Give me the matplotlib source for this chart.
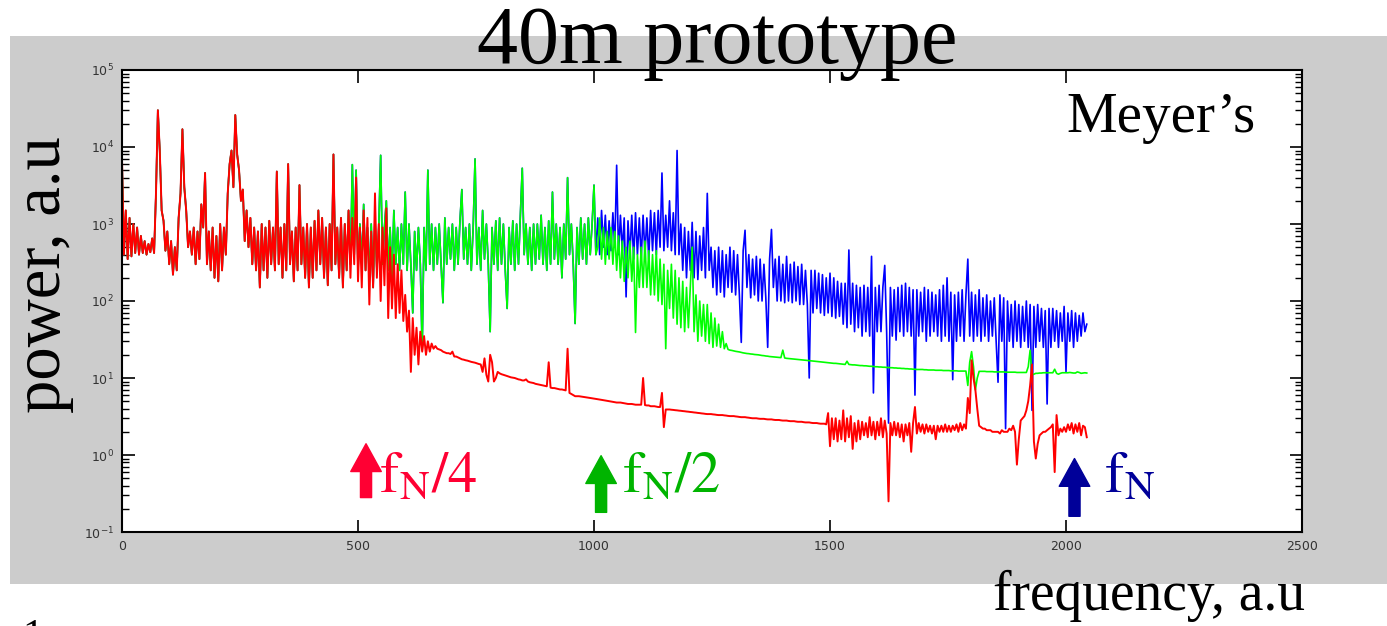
import matplotlib
matplotlib.use("Agg")
import matplotlib.pyplot as plt
import numpy as np
from matplotlib.patches import Rectangle

# frequency grid step (a.u.)
step = 4

# f = 0 .. 476, identical for all three spectra
shared_low = [
    7000, 400, 1500, 350, 1200, 380, 1000, 420, 900, 400,        # 0
    700, 420, 600, 400, 550, 430, 650, 420, 2500, 30000,         # 40
    9000, 1500, 1100, 450, 800, 300, 600, 220, 500, 250,         # 80
    1200, 2500, 17000, 3000, 1500, 500, 800, 400, 900, 300,      # 120
    800, 350, 1800, 900, 4600, 300, 800, 250, 900, 200,          # 160
    700, 180, 1000, 250, 900, 400, 2500, 6000, 9000, 3000,       # 200
    26000, 8000, 5000, 2000, 2800, 600, 1500, 500, 1200, 300,    # 240
    900, 250, 800, 150, 1000, 250, 900, 200, 1100, 300,          # 280
    900, 250, 4800, 300, 900, 200, 1000, 250, 6000, 300,         # 320
    800, 180, 900, 250, 3200, 300, 900, 200, 1000, 150,          # 360
    900, 200, 1100, 250, 1500, 300, 1200, 200, 900, 160,         # 400
    1000, 250, 8000, 300, 900, 200, 1200, 150, 1000, 250,        # 440
]

# red (fN/4), f = 480 .. 2044
red_hi = [
    1500, 200, 1200, 300, 4000, 180, 900, 150, 1500, 250,        # 480
    1200, 90, 800, 150, 2500, 200, 1000, 100, 900, 160,          # 520
    1600, 60, 500, 80, 400, 60, 300, 70, 250, 55,                # 560
    120, 40, 75, 12, 60, 20, 45, 15, 40, 22,                     # 600
    35, 20, 30, 22, 28, 24, 26, 24, 23.5, 23,                    # 640
    22, 21.5, 21, 21, 20.5, 22, 19, 19, 18.5, 18,                # 680
    17.5, 17.3, 17, 16.8, 16.5, 16.2, 16, 15.8, 15.5, 15.2,      # 720
    15, 12, 18, 11, 9, 20, 16, 9, 10, 12,                        # 760
    11.5, 11.2, 11, 10.8, 10.6, 10.4, 10.2, 10.1, 10, 9.8,       # 800
    9.6, 9.5, 9.3, 9.3, 9.6, 9.0, 8.8, 8.7, 8.6, 8.4,            # 840
    8.3, 8.2, 8.1, 8.0, 7.9, 7.8, 16, 7.5, 7.4, 7.4,             # 880
    7.3, 7.2, 7.1, 7.1, 7.0, 6.9, 24, 6.4, 6.2, 6.0,             # 920
    5.8, 5.8, 5.8, 5.75, 5.7, 5.65, 5.6, 5.55, 5.5, 5.45,        # 960
    5.4, 5.35, 5.3, 5.25, 5.2, 5.15, 5.1, 5.05, 5.0, 4.95,       # 1000
    4.9, 4.85, 4.8, 4.8, 4.8, 4.75, 4.7, 4.65, 4.6, 4.6,         # 1040
    4.6, 4.55, 4.5, 4.5, 4.5, 4.5, 10, 4.45, 4.4, 4.4,           # 1080
    4.3, 4.3, 4.3, 4.25, 4.2, 4.2, 6.4, 2.3, 3.9, 3.9,           # 1120
    3.9, 3.87, 3.85, 3.82, 3.8, 3.77, 3.75, 3.72, 3.7, 3.67,     # 1160
    3.65, 3.62, 3.6, 3.57, 3.55, 3.52, 3.5, 3.47, 3.45, 3.42,    # 1200
    3.4, 3.4, 3.4, 3.37, 3.35, 3.32, 3.3, 3.3, 3.3, 3.27,        # 1240
    3.25, 3.22, 3.2, 3.2, 3.2, 3.17, 3.15, 3.12, 3.1, 3.1,       # 1280
    3.1, 3.07, 3.05, 3.02, 3.0, 3.0, 3.0, 2.97, 2.95, 2.95,      # 1320
    2.95, 2.92, 2.9, 2.9, 2.9, 2.87, 2.85, 2.85, 2.85, 2.82,     # 1360
    2.8, 2.8, 2.8, 2.77, 2.75, 2.75, 2.75, 2.72, 2.7, 2.7,       # 1400
    2.7, 2.67, 2.65, 2.65, 2.65, 2.62, 2.6, 2.6, 2.6, 2.57,      # 1440
    2.55, 2.55, 2.55, 2.5, 3.5, 1.3, 3.0, 1.6, 3.0, 1.5,         # 1480
    2.8, 1.6, 3.8, 1.5, 3.0, 1.7, 3.2, 1.2, 2.6, 1.5,            # 1520
    2.8, 1.6, 2.7, 1.8, 2.6, 1.7, 3.1, 1.8, 2.7, 1.6,            # 1560
    2.7, 1.8, 3.0, 1.7, 2.8, 1.9, 0.25, 2.6, 1.8, 2.7,           # 1600
    1.8, 2.6, 1.7, 2.5, 1.5, 2.5, 1.8, 2.6, 1.1, 2.6,            # 1640
    4.2, 1.9, 2.6, 2.0, 2.5, 1.9, 2.5, 2.0, 2.4, 1.9,            # 1680
    2.4, 1.6, 2.4, 2.0, 2.4, 2.0, 2.5, 2.0, 2.4, 2.0,            # 1720
    2.4, 2.1, 2.5, 2.0, 2.6, 2.1, 2.5, 2.2, 5.5, 3.5,            # 1760
    17, 10, 7, 4, 2.4, 2.3, 2.2, 2.2, 2.1, 2.1,                  # 1800
    2.1, 2.0, 2.0, 2.0, 2.0, 1.9, 2.1, 2.0, 2.0, 2.0,            # 1840
    2.2, 2.1, 2.4, 2.0, 0.75, 1.6, 2.8, 3.0, 3.2, 3.8,           # 1880
    5, 8, 15, 1.5, 0.9, 1.4, 1.8, 1.9, 2.0, 2.0,                 # 1920
    2.1, 2.2, 2.3, 2.5, 0.6, 3.3, 1.8, 2.2, 2.0, 2.3,            # 1960
    2.0, 2.5, 2.1, 2.6, 1.9, 2.5, 2.0, 2.6, 1.8, 2.4,            # 2000
    2.3, 1.7,                                                    # 2040
]

# green (fN/2), f = 480 .. 1004 (blue follows the same values there)
green_mid = [
    1500, 300, 5900, 400, 5000, 250, 1000, 300, 1800, 250,       # 480
    900, 200, 1000, 150, 1200, 250, 900, 7800, 300, 900,         # 520
    2000, 250, 900, 200, 1500, 300, 900, 250, 1000, 300,         # 560
    2600, 250, 1000, 300, 70, 800, 250, 900, 300, 23,            # 600
    900, 250, 5000, 300, 1000, 250, 900, 300, 1000, 300,         # 640
    95, 1200, 300, 900, 350, 1000, 250, 900, 300, 1100,          # 680
    2800, 350, 900, 300, 1000, 250, 900, 7000, 300, 900,         # 720
    250, 1500, 350, 1000, 300, 40, 900, 300, 1100, 250,          # 760
    1200, 300, 1000, 250, 80, 900, 300, 1100, 250, 1000,         # 800
    300, 1300, 5300, 400, 1000, 300, 900, 250, 1000, 300,        # 840
    1000, 350, 1300, 300, 900, 250, 1100, 300, 2600, 350,        # 880
    1000, 300, 900, 200, 1000, 350, 4000, 400, 1000, 300,        # 920
    51, 900, 300, 1200, 350, 1000, 300, 1200, 400, 1000,         # 960
    3200, 400,                                                   # 1000
]

# green, f = 1008 .. 2044
green_hi = [
    500, 1200, 350, 900, 300, 800, 350, 900, 300, 800,           # 1008
    250, 700, 200, 600, 180, 500, 200, 600, 180, 500,            # 1048
    39, 400, 150, 500, 150, 600, 150, 450, 120, 400,             # 1088
    120, 450, 100, 350, 90, 300, 24, 250, 80, 300,               # 1128
    60, 250, 50, 200, 45, 180, 40, 150, 45, 150,                 # 1168
    500, 40, 120, 30, 100, 35, 90, 30, 90, 28,                   # 1208
    70, 25, 60, 26, 50, 25, 40, 24, 28, 23.5,                    # 1248
    23, 22.8, 22.5, 22.2, 22, 21.8, 21.5, 21.2, 21, 20.8,        # 1288
    20.7, 20.5, 20.4, 20.2, 20.1, 20, 19.8, 19.6, 19.5, 19.3,    # 1328
    19.2, 19, 18.9, 18.8, 18.7, 18.6, 18.5, 18.4, 23, 18.2,      # 1368
    18.0, 17.9, 17.8, 17.7, 17.6, 17.5, 17.4, 17.3, 17.2, 17.1,  # 1408
    17.0, 16.9, 16.8, 16.7, 16.6, 16.5, 16.4, 16.3, 16.2, 16.1,  # 1448
    16.0, 15.9, 15.8, 15.7, 15.6, 15.5, 15.5, 15.4, 15.3, 15.2,  # 1488
    15.1, 15, 16.5, 15, 14.9, 14.8, 14.8, 14.7, 14.6, 14.5,      # 1528
    14.5, 14.4, 14.4, 14.3, 14.2, 14.2, 14.1, 14.0, 14.0, 13.9,  # 1568
    13.9, 13.8, 13.8, 13.7, 13.7, 13.6, 13.6, 13.5, 13.5, 13.4,  # 1608
    13.4, 13.3, 13.3, 13.2, 13.2, 13.1, 13.1, 13.0, 13.0, 12.9,  # 1648
    12.9, 12.9, 12.9, 12.8, 12.8, 12.7, 12.7, 12.7, 12.7, 12.6,  # 1688
    12.6, 12.6, 12.6, 12.5, 12.5, 12.5, 12.5, 12.4, 12.4, 12.4,  # 1728
    12.4, 12.3, 12.3, 12.3, 12.3, 12.3, 8, 16, 22, 14,           # 1768
    7, 10, 12.2, 12.2, 12.2, 12.2, 12.1, 12.1, 12.1, 12.1,       # 1808
    12.0, 12.0, 12.0, 12.0, 12.0, 12.0, 11.9, 11.9, 11.9, 11.9,  # 1848
    11.9, 11.9, 11.8, 11.8, 11.8, 11.8, 11.8, 11.8, 14, 23,      # 1888
    11.0, 11.2, 11.5, 11.5, 11.6, 11.6, 11.7, 11.7, 11.7, 11.7,  # 1928
    11.7, 11.7, 13, 11.5, 11.2, 11.5, 11.7, 11.7, 11.7, 11.7,    # 1968
    11.8, 11.7, 11.6, 11.6, 12, 11.8, 11.5, 11.6, 11.7, 11.6,    # 2008
]

# blue (fN), f = 1008 .. 2044
blue_hi = [
    1200, 400, 1500, 500, 1300, 400, 1100, 450, 1400, 500,       # 1008
    5800, 400, 1300, 450, 1200, 113, 1100, 400, 1300, 350,       # 1048
    1400, 400, 1200, 350, 1300, 400, 1200, 350, 1500, 450,       # 1088
    1400, 400, 1500, 500, 4600, 450, 1300, 500, 2000, 450,       # 1128
    1400, 400, 9000, 400, 1000, 250, 900, 200, 800, 250,         # 1168
    1050, 200, 800, 190, 700, 250, 900, 200, 2500, 250,          # 1208
    500, 150, 450, 120, 500, 130, 450, 113, 400, 150,            # 1248
    500, 130, 450, 120, 400, 120, 29, 450, 830, 150,             # 1288
    400, 110, 350, 120, 380, 100, 350, 100, 300, 110,            # 1328
    25, 350, 850, 150, 350, 100, 380, 100, 300, 95,              # 1368
    380, 100, 300, 95, 320, 100, 280, 90, 300, 90,               # 1408
    250, 90, 10, 250, 70, 250, 80, 230, 70, 220,                 # 1448
    65, 200, 70, 230, 63, 200, 60, 180, 63, 170,                 # 1488
    50, 170, 45, 460, 50, 170, 40, 160, 45, 150,                 # 1528
    35, 160, 40, 150, 35, 380, 6.4, 150, 40, 160,                # 1568
    40, 150, 290, 40, 2.6, 150, 35, 140, 31, 150,                # 1608
    40, 160, 35, 170, 40, 150, 35, 140, 6, 140,                  # 1648
    35, 130, 40, 150, 30, 140, 35, 130, 40, 120,                 # 1688
    35, 140, 30, 160, 35, 200, 30, 130, 9.5, 120,                # 1728
    30, 130, 35, 140, 30, 120, 350, 35, 130, 30,                 # 1768
    120, 35, 140, 30, 110, 35, 120, 30, 100, 35,                 # 1808
    110, 30, 8.8, 120, 30, 110, 2.2, 100, 30, 90,                # 1848
    25, 100, 30, 90, 25, 85, 30, 100, 25, 90,                    # 1888
    3.8, 85, 25, 90, 30, 80, 25, 75, 4.6, 80,                    # 1928
    25, 80, 30, 75, 25, 70, 30, 85, 12, 70,                      # 1968
    30, 75, 25, 70, 30, 65, 35, 70, 40, 50,                      # 2008
]

red = np.array(shared_low + red_hi)
green = np.array(shared_low + green_mid + green_hi)
blue = np.array(shared_low + green_mid + blue_hi)
freq = np.arange(len(red)) * step

x_ticks = [0, 500, 1000, 1500, 2000, 2500]

serif = ["Liberation Serif", "DejaVu Serif"]
plt.rcParams["mathtext.fontset"] = "stix"
plt.rcParams["path.simplify"] = False

fig = plt.figure(figsize=(13.87, 6.26), dpi=100)
W, H = 1387, 626

# grey panel behind the plot
fig.patches.append(Rectangle((10 / W, 1 - 584 / H), 1 - 10 / W, (584 - 36) / H,
                             transform=fig.transFigure, facecolor="#cccccc",
                             edgecolor="none", zorder=-10))

ax = fig.add_axes([122 / W, 1 - 532 / H, (1302 - 122) / W, (532 - 70) / H])
ax.set_zorder(1)
ax.set_facecolor("white")

ax.plot(freq, blue, color="#0000ff", lw=1.2)
ax.plot(freq, green, color="#00ff00", lw=1.2)
ax.plot(freq, red, color="#ff0000", lw=1.4)

ax.set_yscale("log")
ax.set_xlim(0, 2500)
ax.set_ylim(0.1, 1e5)
ax.set_xticks(x_ticks)
ax.tick_params(which="both", direction="in", top=True, right=True,
               labelsize=9, labelcolor="#333333", pad=6)
ax.tick_params(which="major", length=9, width=1.2)
ax.tick_params(which="minor", length=5, width=1.0)
for s in ax.spines.values():
    s.set_linewidth(1.5)

# arrows and labels for the Nyquist fractions
marks = [
    (517, 0.28, 1.4, "#ff0033", r"$\mathrm{f_N/4}$", 545),
    (1015, 0.18, 0.98, "#00b400", r"$\mathrm{f_N/2}$", 1060),
    (2018, 0.16, 0.9, "#000099", r"$\mathrm{f_N}$", 2080),
]
for fx, y0, y1, col, lab, tx in marks:
    ax.annotate("", xy=(fx, y1), xytext=(fx, y0),
                arrowprops=dict(arrowstyle="simple,head_width=1.1,head_length=1.0,tail_width=0.4",
                                color=col, mutation_scale=20, shrinkA=0, shrinkB=0))
    ax.text(tx, 0.33, lab, color=col, fontsize=42, va="baseline", ha="left")

ax.text(0.961, 0.865, "Meyer\u2019s", transform=ax.transAxes, ha="right",
        va="baseline", fontsize=41, family=serif)

fig.text(717 / W, 1 - 63 / H, "40m prototype", ha="center", va="baseline",
         fontsize=59, family=serif, zorder=5)
fig.text(44 / W, 1 - 275 / H, "power, a.u", rotation=90, ha="center",
         va="center", fontsize=48, family=serif)
fig.text(1305 / W, 1 - 610 / H, "frequency, a.u", ha="right", va="baseline",
         fontsize=40, family=serif)
fig.text(22 / W, 1 - 618 / H, "1", ha="left", va="top", fontsize=30,
         family=serif)

fig.savefig("out.png", dpi=100)
